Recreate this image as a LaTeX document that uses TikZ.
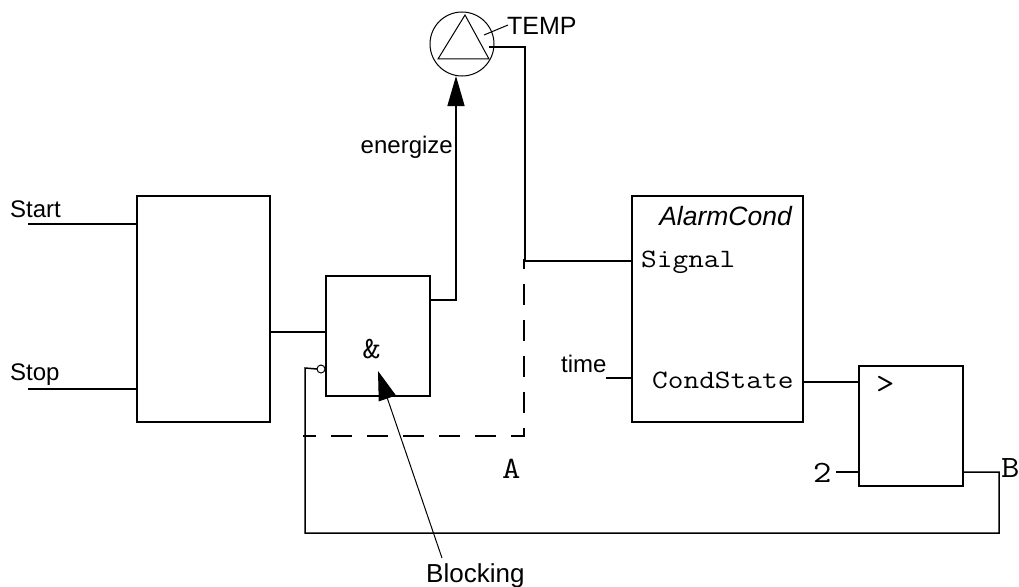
\documentclass[tikz,border=0pt]{standalone}
\usepackage{fontspec}
\setmainfont{Liberation Sans}
\newfontfamily\sigfont[FakeStretch=1.15]{Latin Modern Mono}
\usetikzlibrary{arrows.meta}
\tikzset{
	block/.style={draw, line width=1.5pt, outer sep=0pt, minimum width=#1, anchor=north west, inner sep=0pt},
	wire/.style={line width=1.5pt},
	thin wire/.style={line width=1pt},
	lbl/.style={font=\fontsize{24}{24}\selectfont, inner sep=0pt},
	sig/.style={font=\fontsize{26.5}{26.5}\sigfont, inner sep=0pt},
	mark sig/.style={font=\fontsize{31}{31}\sigfont, inner sep=0pt},
	bigtip/.style={-{Triangle[length=30pt, width=17pt]}},
}
\begin{document}
\begin{tikzpicture}[x=1pt, y=-1pt]
	\useasboundingbox (0,0) rectangle (1019,586);

	% Blocks
	\node[block=133pt, minimum height=226pt] (Latch) at (137,196) {};
	\node[block=104pt, minimum height=120pt] (And) at (326,276) {};
	\node[block=171pt, minimum height=226pt] (Alarm) at (632,196) {};
	\node[block=104pt, minimum height=120pt] (Cmp) at (859,366) {};
	\node[draw, circle, thin wire, outer sep=0pt, minimum size=64pt, inner sep=0pt] (Lamp) at (462,44) {};
	\node[draw, circle, thin wire, outer sep=0pt, fill=white, minimum size=8pt, inner sep=0pt] (Neg) at (321,369) {};

	% Triangle in lamp
	\coordinate (T1) at (465,15);
	\coordinate (T2) at (438,59);
	\coordinate (T3) at (489,59);
	\draw[thin wire] (T1) -- (T2) -- (T3) -- cycle;

	% Labels
	\node[lbl, anchor=base west] (Start) at (10,217) {Start};
	\node[lbl, anchor=base west] (Stop) at (10,380) {Stop};
	\node[lbl, font=\fontsize{25}{25}\selectfont, anchor=base west] (Temp) at (507,35) {TEMP};
	\node[lbl, anchor=base east] (Energize) at (453,153) {energize};
	\node[lbl, anchor=base west] (Time) at (561,372) {time};
	\node[lbl, font=\fontsize{26}{26}\selectfont, anchor=base west] (Block) at (426,582) {Blocking};
	\node[lbl, font=\fontsize{26.5}{26.5}\itshape, anchor=base east] (Cond) at (792,225) {AlarmCond};
	\node[sig, anchor=base west] (Signal) at (641,267) {Signal};
	\node[sig, anchor=base west] (State) at (652,388) {CondState};
	\node[mark sig, anchor=base west] (Gt) at (876,393) {>};
	\node[mark sig, anchor=base west] (Two) at (813,482) {2};
	\node[mark sig, anchor=base west] (B) at (1001,477) {B};
	\node[mark sig, anchor=base west] (A) at (502,478) {A};
	\node[mark sig] (Amp) at (371.5,349) {\&};

	% Helper points
	\coordinate (InA) at (28,224);
	\coordinate (InB) at (28,389);
	\coordinate (LampOut) at (489,47);
	\coordinate (TempEnd) at (484,35);
	\coordinate (TempTip) at (508,25);
	\coordinate (TimeEnd) at (606,378);
	\coordinate (TwoEnd) at (836,472);
	\coordinate (Tap) at (525,261);
	\coordinate (DashA) at (524,259);
	\coordinate (DashB) at (524,436);
	\coordinate (DashC) at (303,436);
	\coordinate (BlockTip) at (378,371);
	\coordinate (BlockEnd) at (442,558);

	% Edges
	\draw[wire] (InA) -- (InA -| Latch.west);
	\draw[wire] (InB) -- (InB -| Latch.west);
	\draw[wire] (Latch.east |- 0,332) -- (And.west |- 0,332);
	\draw[wire, bigtip] (And.east |- 0,300) -| (456,76);
	\draw[wire] (LampOut) -| (Tap) -- (Tap -| Alarm.west);
	\draw[wire] (TimeEnd) -- (TimeEnd -| Alarm.west);
	\draw[wire] (Alarm.east |- 0,382) -- (Cmp.west |- 0,382);
	\draw[wire] (TwoEnd) -- (TwoEnd -| Cmp.west);
	\draw[wire] (Cmp.east |- 0,472) -| (999,533) -| (305,368) -- (Neg.west);
	\draw[thin wire] (TempEnd) -- (TempTip);
	\draw[thin wire, -{Triangle[length=29pt, width=18pt]}] (BlockEnd) -- (BlockTip);

	% Dashed outline
	\draw[wire, dash pattern=on 21pt off 15pt, dash phase=11pt] (DashA) -- (DashB) -- (DashC);
\end{tikzpicture}
\end{document}
